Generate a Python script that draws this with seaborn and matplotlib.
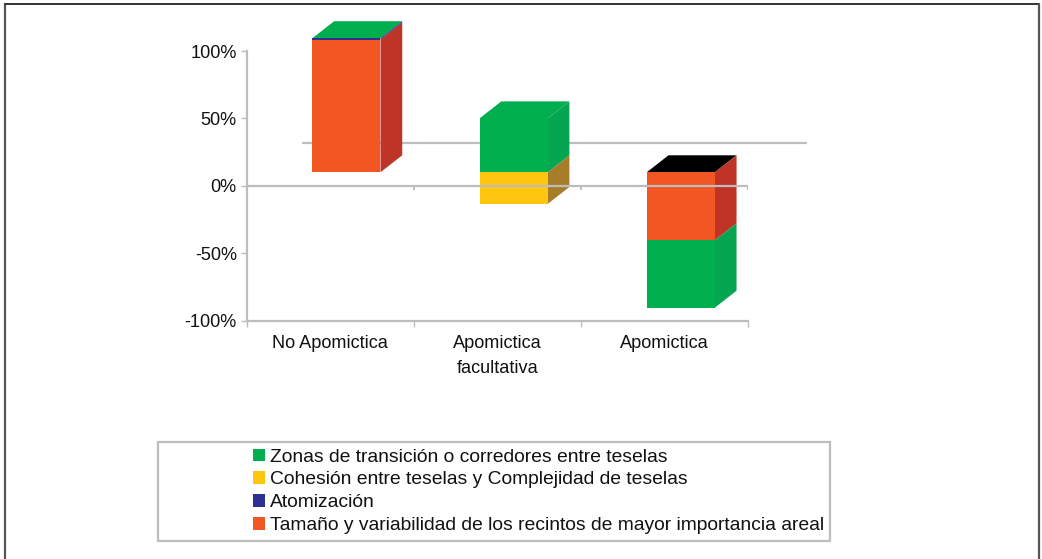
import numpy as np
import pandas as pd
import matplotlib
matplotlib.use("Agg")
import matplotlib.pyplot as plt
from matplotlib.patches import Patch, Rectangle
from matplotlib.lines import Line2D
import seaborn as sns

categories = ["No Apomictica", "Apomictica\nfacultativa", "Apomictica"]
series_names = ["Tamaño y variabilidad de los recintos de mayor importancia areal",
                "Atomización",
                "Cohesión entre teselas y Complejidad de teselas",
                "Zonas de transición o corredores entre teselas"]
tamano_low = [10, 0, -40.5]
tamano_high = [108.5, 0, 10]
atom_low = [108.5, 0, 0]
atom_high = [109.5, 0, 0]
cohesion_low = [0, -13.5, 0]
cohesion_high = [0, 10, 0]
zonas_low = [0, 10, -90.5]
zonas_high = [0, 50, -40.5]
yticks = [-100, -50, 0, 50, 100]
wall_value = 32

front_colors = ["#F15623", "#2E3192", "#FFC60F", "#00B04F"]
side_colors = ["#BE3527", "#2E3192", "#A87D2A", "#06A552"]
top_colors = ["#00AE4D", "#00AE4D", "#000000"]
grey = "#BDBDBD"

W, H = 1042, 559
sns.set_style("white")
plt.rcParams["font.family"] = ["Liberation Sans", "DejaVu Sans"]
fig = plt.figure(figsize=(W / 100, H / 100), dpi=100)
ax = fig.add_axes([246.5 / W, 1 - 320.5 / H, 501.5 / W, 269.5 / H])

lows = [tamano_low, atom_low, cohesion_low, zonas_low]
highs = [tamano_high, atom_high, cohesion_high, zonas_high]
pos = np.arange(len(categories)) + 0.098
bw = 0.407
dx, dy = 0.13, 12.6

tops = np.max(np.array(highs), axis=0)
for i, (xc, t) in enumerate(zip(pos, tops)):
    xl, xr = xc - bw / 2, xc + bw / 2
    ax.fill([xl, xl + dx, xr + dx, xr], [t, t + dy, t + dy, t],
            color=top_colors[i], lw=0, zorder=2, clip_on=False)

for low, high, col, side in zip(lows, highs, front_colors, side_colors):
    low = np.array(low, float)
    high = np.array(high, float)
    for xc, a, b in zip(pos, low, high):
        if b > a:
            xr = xc + bw / 2
            ax.fill([xr, xr + dx, xr + dx, xr], [a, a + dy, b + dy, b],
                    color=side, lw=0, zorder=2, clip_on=False)
    df = pd.DataFrame({"x": pos, "y": high - low})
    sns.barplot(data=df, x="x", y="y", native_scale=True, ax=ax, color=col,
                saturation=1, width=bw, errorbar=None, bottom=low,
                linewidth=0, zorder=3, clip_on=False)

ax.set_xlim(-0.5, 2.5)
ax.set_ylim(-100, 100)
ax.set_xlabel("")
ax.set_ylabel("")

ax.plot([-0.162, 2.846], [wall_value, wall_value], color=grey, lw=1.6, zorder=1, clip_on=False)
ax.axhline(0, color=grey, lw=1.6, zorder=5)

boundaries = np.arange(len(categories) + 1) - 0.5
ax.vlines(boundaries[1:], 0, -3.5, color=grey, lw=1.4, zorder=5)

ax.set_yticks(yticks)
ax.set_yticklabels([f"{v}%" for v in yticks], fontsize=13.1, color="#111111")
ax.set_xticks(np.arange(len(categories)))
ax.set_xticklabels(categories, fontsize=13.1, color="#111111", linespacing=1.6)
ax.set_xticks(boundaries, minor=True)
ax.tick_params(axis="x", which="major", length=0, pad=10.5)
ax.tick_params(axis="x", which="minor", length=4.5, width=1, color=grey, bottom=True)
ax.tick_params(axis="y", length=4, width=1, color=grey, left=True, pad=3)

sns.despine(ax=ax, top=True, right=True)
for s in ["left", "bottom"]:
    ax.spines[s].set_color(grey)
    ax.spines[s].set_linewidth(1.6)

fig.add_artist(Rectangle((158 / W, 1 - 541 / H), 672 / W, 99 / H, fill=False,
                         ec=grey, lw=1.6, transform=fig.transFigure))
order = [3, 2, 1, 0]
handles = [Patch(color=front_colors[i], lw=0) for i in order]
labels = [series_names[i] for i in order]
fig.legend(handles, labels, loc="upper left", bbox_to_anchor=(252.5 / W, 1 - 448.5 / H),
           frameon=False, fontsize=13.85, borderaxespad=0, borderpad=0,
           handlelength=0.65, handleheight=0.65, handletextpad=0.25,
           labelspacing=0.29, labelcolor="#111111")

frame = "#555555"
fig.add_artist(Line2D([5 / W, 5 / W], [0, 1 - 4 / H], color=frame, lw=1.6))
fig.add_artist(Line2D([5 / W, 1039 / W], [1 - 4 / H, 1 - 4 / H], color="#333333", lw=1.4))
fig.add_artist(Line2D([1039 / W, 1039 / W], [0, 1 - 4 / H], color=frame, lw=1.6))

fig.savefig("out.png", dpi=100, facecolor="white")
